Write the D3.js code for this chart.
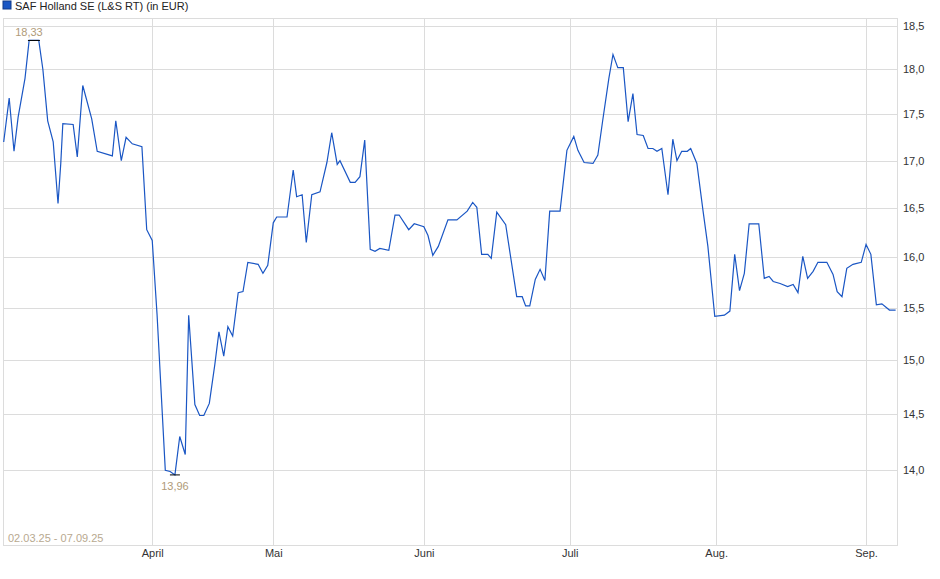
<!DOCTYPE html>
<html><head><meta charset="utf-8">
<script src="https://cdn.jsdelivr.net/npm/d3@7"></script>
<style>body{margin:0;background:#fff}text{font-family:"Liberation Sans",Arial,sans-serif}</style>
</head><body><svg id="c" width="940" height="579"></svg>
<script>
const title = "SAF Holland SE (L&S RT) (in EUR)";
const rangeLabel = "02.03.25 - 07.09.25";
const sessions = [0.1,0.9,1.6,2.2,3.2,3.8,5.2,5.8,6.5,7.3,8.0,8.4,8.7,10.2,10.8,11.6,12.9,13.7,15.9,16.4,17.2,17.9,18.8,20.2,20.9,21.7,22.4,23.6,24.3,25.0,25.7,26.5,27.0,27.9,28.6,29.2,30.0,30.8,31.4,32.1,32.7,33.4,34.2,34.9,35.6,37.1,37.8,38.5,39.3,39.8,41.3,42.2,42.7,43.5,44.1,44.9,46.1,47.1,47.8,48.6,49.0,50.5,51.2,51.9,52.6,53.4,54.1,54.8,56.1,57.0,57.6,59.0,59.8,61.2,61.8,62.5,63.3,64.7,66.0,67.5,68.3,68.9,69.6,70.5,71.0,71.8,73.1,74.7,75.5,76.0,76.6,77.4,78.1,78.8,79.5,81.0,82.0,83.0,83.6,84.5,85.8,86.5,87.2,88.1,88.7,89.4,90.2,90.9,91.6,92.2,93.1,93.8,94.5,95.1,95.8,96.7,97.4,98.0,98.7,99.5,100.0,100.9,101.8,102.5,103.5,104.9,105.7,106.4,107.1,107.8,108.5,109.9,110.7,111.4,112.0,113.0,114.1,114.9,115.6,116.3,117.0,117.8,118.5,119.8,120.7,121.3,122.0,122.7,123.6,124.8,125.5,126.2,127.0,127.8,128.9,129.8];
const prices = [17.2,17.68,17.1,17.47,17.9,18.33,18.33,18.0,17.43,17.2,16.55,16.97,17.4,17.39,17.04,17.82,17.45,17.1,17.05,17.43,17.0,17.25,17.18,17.15,16.28,16.17,15.44,14.0,13.99,13.96,14.3,14.14,15.43,14.59,14.49,14.49,14.6,14.96,15.27,15.04,15.32,15.23,15.65,15.66,15.95,15.93,15.84,15.92,16.35,16.41,16.41,16.9,16.62,16.64,16.15,16.64,16.67,16.98,17.3,16.96,17.0,16.77,16.77,16.83,17.22,16.08,16.06,16.09,16.07,16.43,16.43,16.28,16.34,16.31,16.22,16.02,16.11,16.38,16.38,16.47,16.56,16.51,16.03,16.03,15.99,16.46,16.33,15.61,15.61,15.52,15.52,15.78,15.88,15.77,16.47,16.47,17.11,17.26,17.11,16.98,16.97,17.06,17.43,17.9,18.17,18.02,18.02,17.42,17.73,17.28,17.27,17.13,17.13,17.1,17.13,16.64,17.23,17.0,17.1,17.1,17.13,16.97,16.47,16.11,15.42,15.43,15.47,16.03,15.67,15.84,16.34,16.34,15.79,15.81,15.76,15.74,15.71,15.73,15.65,16.01,15.79,15.86,15.95,15.95,15.83,15.66,15.61,15.89,15.93,15.95,16.13,16.03,15.53,15.54,15.48,15.48];
const monthLabels = ["April","Mai","Juni","Juli","Aug.","Sep."];
const monthSessions = [21.7,39.3,61.2,82.4,103.7,125.5];
const yTicks = [14.0,14.5,15.0,15.5,16.0,16.5,17.0,17.5,18.0,18.5];

const svg = d3.select("#c");
const L=3,R=897,T=18,B=545;
const x = d3.scaleLinear().domain([0,130]).range([L,R]);
const y = d3.scaleLog().domain([13.36,18.59]).range([B,T]);
const fmt = v => d3.format(".1f")(v).replace(".",",");
const fmt2 = v => d3.format(".2f")(v).replace(".",",");

svg.append("g").selectAll("line").data(yTicks).join("line")
  .attr("x1",L).attr("x2",R).attr("y1",d=>Math.round(y(d))+0.5).attr("y2",d=>Math.round(y(d))+0.5)
  .attr("stroke","#dcdcdc");
svg.append("g").selectAll("line").data(monthSessions).join("line")
  .attr("x1",d=>Math.round(x(d))+0.5).attr("x2",d=>Math.round(x(d))+0.5).attr("y1",T).attr("y2",B)
  .attr("stroke","#dcdcdc");
svg.append("rect").attr("x",L+0.5).attr("y",T+0.5).attr("width",R-L).attr("height",B-T)
  .attr("fill","none").attr("stroke","#dcdcdc");

const yAxis = d3.axisRight(y).tickValues(yTicks).tickFormat(fmt).tickSize(0).tickPadding(6);
svg.append("g").attr("transform",`translate(${R},0)`).call(yAxis)
  .call(g=>g.select(".domain").remove())
  .selectAll("text").attr("font-size",11).attr("fill","#333").attr("font-family","Liberation Sans, Arial");
const xAxis = d3.axisBottom(x).tickValues(monthSessions).tickFormat((d,i)=>monthLabels[i]).tickSize(0).tickPadding(4);
svg.append("g").attr("transform",`translate(0,${B})`).call(xAxis)
  .call(g=>g.select(".domain").remove())
  .selectAll("text").attr("font-size",11).attr("fill","#333").attr("font-family","Liberation Sans, Arial");

const line = d3.line().x((d,i)=>x(sessions[i])).y(d=>y(d));
svg.append("path").datum(prices).attr("d",line).attr("fill","none").attr("stroke","#1a56c4").attr("stroke-width",1.2);

const maxV = d3.max(prices), minV = d3.min(prices);
const iMax = prices.indexOf(maxV), lastMax = prices.lastIndexOf(maxV), iMin = prices.indexOf(minV);
const mx = (x(sessions[iMax])+x(sessions[lastMax]))/2;
svg.append("line").attr("x1",mx-6).attr("x2",mx+6).attr("y1",y(maxV)).attr("y2",y(maxV)).attr("stroke","#000");
svg.append("text").attr("x",mx-5).attr("y",y(maxV)-4).attr("text-anchor","middle").attr("font-size",11).attr("fill","#b09a78").text(fmt2(maxV));
svg.append("line").attr("x1",x(sessions[iMin])-5).attr("x2",x(sessions[iMin])+5).attr("y1",y(minV)).attr("y2",y(minV)).attr("stroke","#000");
svg.append("text").attr("x",x(sessions[iMin])).attr("y",y(minV)+15).attr("text-anchor","middle").attr("font-size",11).attr("fill","#b09a78").text(fmt2(minV));

svg.append("rect").attr("x",3).attr("y",1).attr("width",8).attr("height",8).attr("fill","#1a56c4").attr("stroke","#123a88");
svg.append("text").attr("x",15).attr("y",10).attr("font-size",11).attr("fill","#222").text(title);
svg.append("text").attr("x",8).attr("y",542).attr("font-size",11).attr("fill","#b8a990").text(rangeLabel);
</script></body></html>
